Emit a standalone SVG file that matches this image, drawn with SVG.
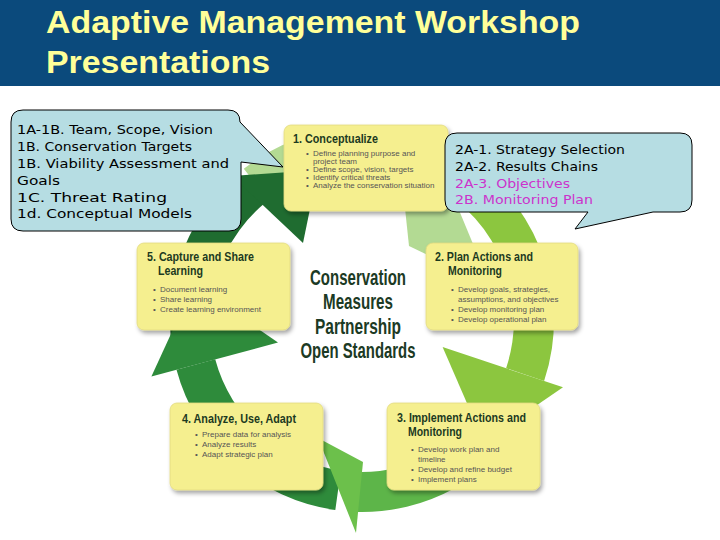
<svg xmlns="http://www.w3.org/2000/svg" width="720" height="540" viewBox="0 0 720 540">
<defs>
<filter id="sh" x="-10%" y="-10%" width="125%" height="130%">
<feDropShadow dx="2" dy="3" stdDeviation="2" flood-color="#000" flood-opacity="0.35"/>
</filter>
<style>
.box{fill:#f5ef8f;stroke:#e2da80;stroke-width:0.8;filter:url(#sh)}
.bt{font-family:"Liberation Sans",Arial,sans-serif;font-weight:bold;font-size:13.5px;fill:#1c3a1f}
.bl{font-family:"Liberation Sans",Arial,sans-serif;font-size:8px;fill:#555}
.ct{font-family:"Liberation Sans",Arial,sans-serif;font-weight:bold;font-size:22px;fill:#1c3a24;text-anchor:middle}
.co{fill:#b6dde3;stroke:#000;stroke-width:1}
.cx{font-family:"DejaVu Sans",Verdana,sans-serif;font-size:13px;fill:#000}
.mg{fill:#cc33cc}
.ttl{font-family:"Liberation Sans",Arial,sans-serif;font-weight:bold;font-size:32px;fill:#ffff99}
</style>
</defs>
<rect width="720" height="540" fill="#fff"/>
<g id="header">
<rect x="0" y="0" width="720" height="86" fill="#0b4a7c"/>
<text class="ttl" x="46" y="33" textLength="534" lengthAdjust="spacingAndGlyphs">Adaptive Management Workshop</text>
<text class="ttl" x="46" y="73" textLength="224" lengthAdjust="spacingAndGlyphs">Presentations</text>
</g>
<g id="connectors">
<path fill="#b3da93" d="M243.8,168.7 A192,192 0 0 1 411.7,134.5 L401.3,173.2 A152,152 0 0 0 268.4,200.2 Z"/>
<path fill="#8cc63f" d="M452.1,150.5 A192,192 0 0 1 544.1,380.9 L506.1,368.2 A152,152 0 0 0 433.4,185.8 Z"/>
<path fill="#5db549" d="M528.3,416 A192,192 0 0 1 355.3,511.9 L356.7,471.9 A152,152 0 0 0 493.6,396 Z"/>
<path fill="#2e8b3b" d="M335.3,510.1 A192,192 0 0 1 176.5,369.7 L215.2,359.3 A152,152 0 0 0 340.8,470.5 Z"/>
<path fill="#1f6c30" d="M170.7,336.7 A192,192 0 0 1 238.6,172.9 L264.3,203.6 A152,152 0 0 0 210.6,333.3 Z"/>
<polygon fill="#b3da93" points="425,128 490,285 409,246 401.3,173.2"/>
<polygon fill="#8cc63f" points="563,387.3 483.6,441.6 442.6,347"/>
<polygon fill="#6cc04b" points="356,533 318,438 363,462"/>
<polygon fill="#2e8b3b" points="151.4,376.4 193.8,284.2 278,342.5"/>
<polygon fill="#1f6c30" points="232,176 318,170 303,243"/>
</g>
<g id="center">
<text class="ct" x="358" y="285" textLength="96" lengthAdjust="spacingAndGlyphs">Conservation</text>
<text class="ct" x="358" y="309" textLength="70" lengthAdjust="spacingAndGlyphs">Measures</text>
<text class="ct" x="358" y="334" textLength="86" lengthAdjust="spacingAndGlyphs">Partnership</text>
<text class="ct" x="358" y="358" textLength="115" lengthAdjust="spacingAndGlyphs">Open Standards</text>
</g>
<g id="step1">
<rect class="box" x="284" y="125" width="164" height="86" rx="7"/>
<text class="bt" x="293" y="143" textLength="85" lengthAdjust="spacingAndGlyphs">1. Conceptualize</text>
<g class="bl">
<text x="306" y="156">•</text><text x="313" y="156">Define planning purpose and</text>
<text x="313" y="164">project team</text>
<text x="306" y="172">•</text><text x="313" y="172">Define scope, vision, targets</text>
<text x="306" y="180">•</text><text x="313" y="180">Identify critical threats</text>
<text x="306" y="188">•</text><text x="313" y="188">Analyze the conservation situation</text>
</g>
</g>
<g id="step2">
<rect class="box" x="426" y="243" width="152" height="87" rx="7"/>
<text class="bt" x="435" y="261" textLength="98" lengthAdjust="spacingAndGlyphs">2. Plan Actions and</text>
<text class="bt" x="448" y="275" textLength="54" lengthAdjust="spacingAndGlyphs">Monitoring</text>
<g class="bl">
<text x="451" y="292">•</text><text x="458" y="292">Develop goals, strategies,</text>
<text x="458" y="302">assumptions, and objectives</text>
<text x="451" y="312">•</text><text x="458" y="312">Develop monitoring plan</text>
<text x="451" y="322">•</text><text x="458" y="322">Develop operational plan</text>
</g>
</g>
<g id="step3">
<rect class="box" x="387" y="403" width="153" height="87" rx="7"/>
<text class="bt" x="397" y="422" textLength="129" lengthAdjust="spacingAndGlyphs">3. Implement Actions and</text>
<text class="bt" x="408" y="436" textLength="54" lengthAdjust="spacingAndGlyphs">Monitoring</text>
<g class="bl">
<text x="411" y="452">•</text><text x="418" y="452">Develop work plan and</text>
<text x="418" y="462">timeline</text>
<text x="411" y="472">•</text><text x="418" y="472">Develop and refine budget</text>
<text x="411" y="482">•</text><text x="418" y="482">Implement plans</text>
</g>
</g>
<g id="step4">
<rect class="box" x="170" y="403" width="153" height="87" rx="7"/>
<text class="bt" x="182" y="423" textLength="114" lengthAdjust="spacingAndGlyphs">4. Analyze, Use, Adapt</text>
<g class="bl">
<text x="195" y="437">•</text><text x="202" y="437">Prepare data for analysis</text>
<text x="195" y="447">•</text><text x="202" y="447">Analyze results</text>
<text x="195" y="457">•</text><text x="202" y="457">Adapt strategic plan</text>
</g>
</g>
<g id="step5">
<rect class="box" x="137" y="243" width="153" height="87" rx="7"/>
<text class="bt" x="147" y="261" textLength="107" lengthAdjust="spacingAndGlyphs">5. Capture and Share</text>
<text class="bt" x="158" y="275" textLength="45" lengthAdjust="spacingAndGlyphs">Learning</text>
<g class="bl">
<text x="153" y="292">•</text><text x="160" y="292">Document learning</text>
<text x="153" y="302">•</text><text x="160" y="302">Share learning</text>
<text x="153" y="312">•</text><text x="160" y="312">Create learning environment</text>
</g>
</g>
<g id="callout1">
<path class="co" d="M23,110 H228 Q240,110 240,122 L283,167 L241,162 V219 Q241,231 229,231 H23 Q11,231 11,219 V122 Q11,110 23,110 Z"/>
<text class="cx" x="17" y="134" textLength="196" lengthAdjust="spacingAndGlyphs">1A-1B. Team, Scope, Vision</text>
<text class="cx" x="17" y="151" textLength="175" lengthAdjust="spacingAndGlyphs">1B. Conservation Targets</text>
<text class="cx" x="17" y="168" textLength="212" lengthAdjust="spacingAndGlyphs">1B. Viability Assessment and</text>
<text class="cx" x="17" y="185" textLength="43" lengthAdjust="spacingAndGlyphs">Goals</text>
<text class="cx" x="17" y="202" textLength="150" lengthAdjust="spacingAndGlyphs">1C. Threat Rating</text>
<text class="cx" x="17" y="218" textLength="175" lengthAdjust="spacingAndGlyphs">1d. Conceptual Models</text>
</g>
<g id="callout2">
<path class="co" d="M457,133 H680 Q692,133 692,145 V200 Q692,212 680,212 H653 L575,229 L588,212 H457 Q445,212 445,200 V145 Q445,133 457,133 Z"/>
<text class="cx" x="455" y="154" textLength="170" lengthAdjust="spacingAndGlyphs">2A-1. Strategy Selection</text>
<text class="cx" x="455" y="171" textLength="143" lengthAdjust="spacingAndGlyphs">2A-2. Results Chains</text>
<text class="cx mg" x="455" y="188" textLength="115" lengthAdjust="spacingAndGlyphs">2A-3. Objectives</text>
<text class="cx mg" x="455" y="204" textLength="138" lengthAdjust="spacingAndGlyphs">2B. Monitoring Plan</text>
</g>
</svg>
